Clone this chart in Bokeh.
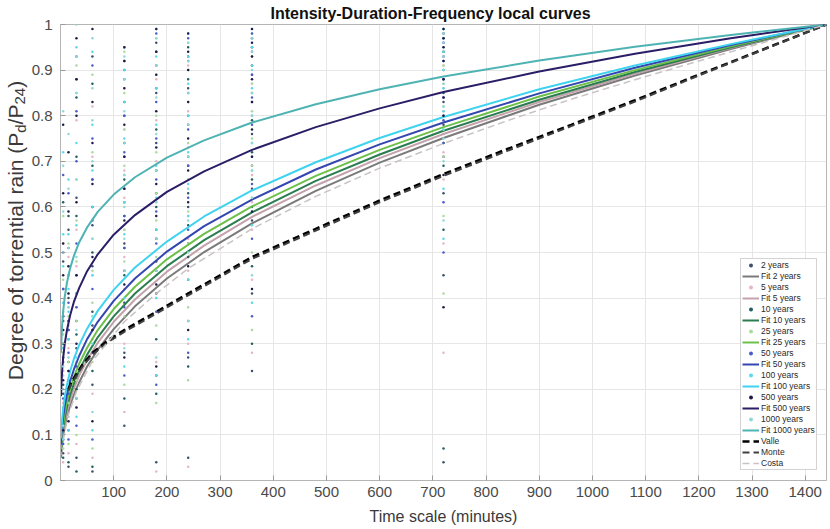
import math
from bokeh.plotting import figure
from bokeh.layouts import row
from bokeh.models import FixedTicker, CustomJSTickFormatter, Range1d
from bokeh.core.properties import value
from bokeh.embed import file_html
from bokeh.resources import INLINE

# ---------------- data ----------------
durations = [5, 15, 30, 60, 120, 180, 240, 360, 720]
periods = ["2 years", "5 years", "10 years", "25 years", "50 years", "100 years", "500 years", "1000 years"]

obs_2 = [[0.06, 0.12, 0.19, 0.27, 0.35, 0.48, 0.09], [0.03, 0.15, 0.22, 0.31, 0.40, 0.55, 0.26],
         [0.05, 0.18, 0.29, 0.41, 0.62, 0.88, 0.35], [0.02, 0.21, 0.34, 0.47, 0.66, 0.93, 0.56],
         [0.12, 0.28, 0.39, 0.52, 0.71, 0.90, 0.46, 0.61, 0.80], [0.04, 0.23, 0.41, 0.55, 0.74, 0.96, 0.63, 0.48, 0.85],
         [0.05, 0.27, 0.44, 0.60, 0.78, 0.93, 0.52, 0.69, 0.86], [0.24, 0.41, 0.57, 0.69, 0.83, 0.95, 0.64, 0.76, 0.89],
         [0.04, 0.45, 0.63, 0.78, 0.88, 0.97, 0.71, 0.83, 0.93]]
obs_5 = [[0.04, 0.10, 0.17, 0.24, 0.33, 0.52, 0.14], [0.06, 0.13, 0.20, 0.29, 0.38, 0.49, 0.34],
         [0.08, 0.16, 0.26, 0.38, 0.55, 0.79, 0.47], [0.05, 0.19, 0.31, 0.45, 0.60, 0.82, 0.71],
         [0.15, 0.30, 0.42, 0.55, 0.68, 0.86, 0.49, 0.62, 0.77], [0.02, 0.26, 0.40, 0.53, 0.70, 0.88, 0.61, 0.79, 0.45],
         [0.03, 0.30, 0.46, 0.58, 0.73, 0.91, 0.66, 0.81, 0.53], [0.28, 0.44, 0.55, 0.67, 0.80, 0.93, 0.61, 0.74, 0.87],
         [0.28, 0.52, 0.66, 0.76, 0.86, 0.96, 0.72, 0.81, 0.91]]
obs_10 = [[0.05, 0.14, 0.21, 0.30, 0.42, 0.61, 0.36], [0.04, 0.11, 0.24, 0.33, 0.45, 0.58, 0.18],
          [0.02, 0.20, 0.32, 0.45, 0.58, 0.84, 0.71], [0.03, 0.24, 0.37, 0.50, 0.69, 0.87, 0.60],
          [0.18, 0.33, 0.45, 0.58, 0.74, 0.92, 0.51, 0.66, 0.83], [0.19, 0.31, 0.46, 0.60, 0.77, 0.94, 0.68, 0.53, 0.86],
          [0.25, 0.35, 0.49, 0.63, 0.80, 0.95, 0.56, 0.71, 0.88], [0.30, 0.47, 0.60, 0.72, 0.85, 0.97, 0.66, 0.79, 0.91],
          [0.07, 0.55, 0.69, 0.80, 0.90, 0.98, 0.74, 0.85, 0.94]]
obs_25 = [[0.07, 0.16, 0.23, 0.32, 0.44, 0.58, 0.28], [0.08, 0.17, 0.26, 0.36, 0.47, 0.52, 0.41],
          [0.10, 0.22, 0.35, 0.48, 0.66, 0.91, 0.57], [0.07, 0.26, 0.39, 0.53, 0.72, 0.89, 0.46],
          [0.21, 0.36, 0.48, 0.61, 0.77, 0.94, 0.55, 0.69, 0.85], [0.17, 0.34, 0.49, 0.63, 0.80, 0.97, 0.57, 0.72, 0.89],
          [0.22, 0.38, 0.52, 0.66, 0.83, 0.96, 0.59, 0.74, 0.90], [0.33, 0.50, 0.62, 0.75, 0.87, 0.98, 0.69, 0.81, 0.93],
          [0.41, 0.58, 0.71, 0.82, 0.91, 0.99, 0.77, 0.87, 0.95]]
obs_50 = [[0.08, 0.18, 0.26, 0.36, 0.50, 0.67, 0.42], [0.09, 0.19, 0.28, 0.39, 0.51, 0.63, 0.33],
          [0.12, 0.25, 0.38, 0.52, 0.70, 0.93, 0.81], [0.09, 0.28, 0.42, 0.57, 0.75, 0.91, 0.66],
          [0.23, 0.38, 0.51, 0.64, 0.80, 0.95, 0.58, 0.72, 0.88], [0.21, 0.37, 0.52, 0.66, 0.83, 0.98, 0.59, 0.75, 0.91],
          [0.28, 0.41, 0.55, 0.69, 0.85, 0.97, 0.62, 0.77, 0.92], [0.36, 0.53, 0.65, 0.78, 0.89, 0.98, 0.71, 0.84, 0.94],
          [0.50, 0.61, 0.74, 0.84, 0.92, 0.99, 0.79, 0.88, 0.96]]
obs_100 = [[0.09, 0.20, 0.29, 0.39, 0.54, 0.72, 0.47], [0.11, 0.21, 0.31, 0.42, 0.54, 0.66, 0.37],
           [0.14, 0.27, 0.41, 0.56, 0.74, 0.95, 0.85], [0.11, 0.30, 0.45, 0.60, 0.78, 0.94, 0.68],
           [0.25, 0.40, 0.54, 0.67, 0.83, 0.95, 0.61, 0.75, 0.90], [0.23, 0.40, 0.55, 0.69, 0.86, 0.99, 0.62, 0.78, 0.93],
           [0.31, 0.44, 0.58, 0.72, 0.87, 0.98, 0.65, 0.80, 0.93], [0.39, 0.56, 0.68, 0.80, 0.91, 0.99, 0.74, 0.86, 0.95],
           [0.53, 0.64, 0.77, 0.86, 0.94, 0.99, 0.81, 0.90, 0.97]]
obs_500 = [[0.11, 0.22, 0.33, 0.45, 0.63, 0.78, 0.52], [0.13, 0.24, 0.35, 0.47, 0.59, 0.72, 0.41],
           [0.16, 0.30, 0.45, 0.61, 0.80, 0.97, 0.88], [0.13, 0.33, 0.49, 0.65, 0.83, 0.99, 0.74],
           [0.27, 0.43, 0.57, 0.71, 0.86, 0.95, 0.64, 0.78, 0.92], [0.25, 0.43, 0.58, 0.73, 0.89, 0.99, 0.65, 0.81, 0.94],
           [0.33, 0.47, 0.61, 0.75, 0.90, 0.98, 0.68, 0.83, 0.94], [0.42, 0.59, 0.71, 0.83, 0.93, 0.99, 0.77, 0.88, 0.96],
           [0.38, 0.67, 0.80, 0.88, 0.95, 0.99, 0.84, 0.92, 0.97]]
obs_1000 = [[0.12, 0.25, 0.37, 0.50, 0.69, 0.81, 0.59], [0.14, 0.27, 0.38, 0.51, 0.64, 0.76, 0.45],
            [0.18, 0.33, 0.49, 0.66, 0.85, 1.00, 0.93], [0.15, 0.36, 0.53, 0.70, 0.86, 0.97, 0.79],
            [0.29, 0.46, 0.60, 0.74, 0.88, 0.93, 0.67, 0.81, 0.53], [0.27, 0.46, 0.61, 0.76, 0.91, 0.97, 0.68, 0.84, 0.53],
            [0.35, 0.50, 0.64, 0.78, 0.92, 0.96, 0.71, 0.85, 0.57], [0.45, 0.62, 0.74, 0.85, 0.94, 0.97, 0.80, 0.90, 0.68],
            [0.57, 0.70, 0.82, 0.90, 0.96, 0.98, 0.87, 0.93, 0.75]]

fit_x = [1, 2, 3, 5, 8, 12, 18, 25, 35, 50, 70, 100, 140, 200, 270, 360, 480, 600, 720, 900, 1080, 1260, 1440]
fit_2 = [0.050, 0.066, 0.078, 0.096, 0.117, 0.139, 0.164, 0.188, 0.215, 0.250, 0.287, 0.332, 0.382, 0.443, 0.501, 0.564, 0.635, 0.697, 0.751, 0.824, 0.888, 0.946, 1.0]
fit_5 = [0.056, 0.074, 0.087, 0.106, 0.128, 0.150, 0.176, 0.201, 0.230, 0.264, 0.302, 0.348, 0.397, 0.458, 0.515, 0.578, 0.647, 0.707, 0.760, 0.830, 0.892, 0.949, 1.0]
fit_10 = [0.062, 0.081, 0.094, 0.114, 0.137, 0.160, 0.187, 0.212, 0.241, 0.276, 0.314, 0.360, 0.410, 0.470, 0.527, 0.588, 0.657, 0.715, 0.767, 0.835, 0.896, 0.950, 1.0]
fit_25 = [0.069, 0.089, 0.104, 0.125, 0.149, 0.173, 0.200, 0.226, 0.256, 0.291, 0.330, 0.376, 0.425, 0.485, 0.541, 0.601, 0.668, 0.725, 0.775, 0.842, 0.900, 0.952, 1.0]
fit_50 = [0.079, 0.101, 0.116, 0.139, 0.163, 0.188, 0.217, 0.243, 0.273, 0.310, 0.348, 0.394, 0.443, 0.502, 0.558, 0.616, 0.682, 0.737, 0.785, 0.849, 0.905, 0.955, 1.0]
fit_100 = [0.093, 0.116, 0.133, 0.157, 0.183, 0.209, 0.239, 0.266, 0.297, 0.333, 0.372, 0.418, 0.467, 0.524, 0.579, 0.636, 0.698, 0.751, 0.797, 0.858, 0.910, 0.957, 1.0]
fit_500 = [0.185, 0.217, 0.239, 0.269, 0.300, 0.329, 0.362, 0.391, 0.422, 0.459, 0.496, 0.539, 0.582, 0.633, 0.678, 0.725, 0.775, 0.816, 0.852, 0.897, 0.936, 0.970, 1.0]
fit_1000 = [0.280, 0.316, 0.340, 0.371, 0.403, 0.433, 0.465, 0.492, 0.522, 0.555, 0.589, 0.627, 0.665, 0.708, 0.746, 0.785, 0.825, 0.858, 0.886, 0.921, 0.951, 0.977, 1.0]

ref_x = [15, 20, 40, 60, 90, 120, 180, 240, 300, 360, 480, 600, 720, 840, 960, 1080, 1200, 1320, 1440]
valle = [0.200, 0.215, 0.252, 0.280, 0.308, 0.330, 0.370, 0.410, 0.450, 0.490, 0.552, 0.614, 0.672, 0.727, 0.780, 0.834, 0.890, 0.945, 1.0]
monte = [0.197, 0.211, 0.248, 0.276, 0.304, 0.326, 0.366, 0.406, 0.446, 0.486, 0.548, 0.610, 0.668, 0.723, 0.777, 0.831, 0.888, 0.944, 1.0]
costa_x = [5, 15, 30, 60, 120, 180, 240, 360, 480, 600, 720, 840, 960, 1080, 1200, 1320, 1440]
costa = [0.090, 0.145, 0.195, 0.262, 0.348, 0.410, 0.465, 0.552, 0.623, 0.685, 0.739, 0.789, 0.836, 0.879, 0.920, 0.960, 1.0]

x_ticks = [100, 200, 300, 400, 500, 600, 700, 800, 900, 1000, 1100, 1200, 1300, 1400]
y_ticks = [0, 0.1, 0.2, 0.3, 0.4, 0.5, 0.6, 0.7, 0.8, 0.9, 1.0]

# ---------------- styles ----------------
FONT = "Liberation Sans"
W, H = 830, 529
LAB_W = 28
FRAME_TOP, FRAME_BOTTOM = 24, 480
dot_colors = ["#3d4f6e", "#e8b4c8", "#1f5f5f", "#a8dc9a", "#4a5cc8", "#5ad8f0", "#1e1b4b", "#8fd8d8"]
fit_colors = ["#7a7a7a", "#c4a2ac", "#2a7d4f", "#6cc04a", "#3446b0", "#3fd3f0", "#2b1d66", "#4fb3b3"]

p = figure(width=W - LAB_W, height=H, x_range=Range1d(0, 1440), y_range=Range1d(0, 1),
           output_backend="svg", toolbar_location=None,
           min_border_left=58 - LAB_W, min_border_right=4, min_border_top=FRAME_TOP,
           min_border_bottom=H - FRAME_BOTTOM)

p.title.text = "Intensity-Duration-Frequency local curves"
p.title.align = "left"
p.title.offset = 210
p.title.text_font = FONT
p.title.text_font_size = "16px"
p.title.text_font_style = "bold"
p.title.text_color = "#111111"
p.title.standoff = 5

p.outline_line_color = "#b5b5b5"
p.background_fill_color = "white"
p.border_fill_color = "white"

for ax in (p.xaxis[0], p.yaxis[0]):
    ax.axis_line_color = "#b5b5b5"
    ax.major_tick_line_color = "#9a9a9a"
    ax.major_tick_in = 5
    ax.major_tick_out = 0
    ax.minor_tick_line_color = None
    ax.major_label_text_font = FONT
    ax.major_label_text_font_size = "15px"
    ax.major_label_text_color = "#4a4a4a"
    ax.axis_label_text_font = FONT
    ax.axis_label_text_font_style = "normal"
    ax.axis_label_text_color = "#3a3a3a"

p.xaxis.ticker = FixedTicker(ticks=x_ticks)
p.yaxis.ticker = FixedTicker(ticks=y_ticks)
p.yaxis.formatter = CustomJSTickFormatter(code="return (Math.round(tick*10)/10).toString();")
p.xaxis.axis_label = "Time scale (minutes)"
p.xaxis.axis_label_text_font_size = "16px"
p.xaxis.major_label_standoff = 6
p.xaxis.axis_label_standoff = 8
p.yaxis.major_label_standoff = 8

p.xgrid.ticker = FixedTicker(ticks=x_ticks)
p.ygrid.ticker = FixedTicker(ticks=y_ticks)
p.grid.grid_line_color = "#e6e6e6"
p.grid.grid_line_width = 1

# ---------------- series ----------------
all_obs = [obs_2, obs_5, obs_10, obs_25, obs_50, obs_100, obs_500, obs_1000]
all_fit = [fit_2, fit_5, fit_10, fit_25, fit_50, fit_100, fit_500, fit_1000]

for name, obs, fit, dc, fc in zip(periods, all_obs, all_fit, dot_colors, fit_colors):
    xs = [d for d, col in zip(durations, obs) for _ in col]
    ys = [v for col in obs for v in col]
    p.scatter(xs, ys, size=2.5, color=dc, line_color=None, legend_label=name)
    p.line(fit_x, fit, line_color=fc, line_width=2, legend_label="Fit " + name)

p.line(ref_x, valle, line_color="black", line_width=2.5, line_dash="7 4", legend_label="Valle")
p.line(ref_x, monte, line_color="#404040", line_width=2, line_dash="7 4", legend_label="Monte")
p.line(costa_x, costa, line_color="#c9c2c2", line_width=1.5, line_dash="7 4", legend_label="Costa")

lg = p.legend[0]
lg.location = (680, 10)
lg.label_text_font = FONT
lg.label_text_font_size = "8.5px"
lg.label_text_color = "#2a2a2a"
lg.glyph_width = 17
lg.glyph_height = 10
lg.label_height = 10
lg.label_standoff = 2
lg.spacing = 1
lg.padding = 1
lg.margin = 0
lg.border_line_color = "#a8a8a8"
lg.border_line_width = 1
lg.background_fill_color = "white"
lg.background_fill_alpha = 1.0

# ---------------- y-axis title with subscripts, in a narrow strip on the left ----------------
# The strip's frame is aligned with the main frame, so it shares the 0..1 vertical range.
lab = figure(width=LAB_W, height=H, x_range=Range1d(0, LAB_W), y_range=Range1d(0, 1),
             output_backend="svg", toolbar_location=None, title=None,
             x_axis_location=None, y_axis_location=None,
             min_border_left=0, min_border_right=0, min_border_top=FRAME_TOP,
             min_border_bottom=H - FRAME_BOTTOM)
lab.grid.visible = False
lab.outline_line_color = None
lab.background_fill_color = "white"
lab.border_fill_color = "white"

ARIAL = {'D': 722, 'e': 556, 'g': 556, 'r': 333, ' ': 278, 'o': 556, 'f': 278, 't': 278, 'n': 556,
         'i': 222, 'a': 556, 'l': 222, '(': 333, 'P': 667, 'd': 556, '/': 278, '2': 556, '4': 556, ')': 333}


def tw(s, size):
    return sum(ARIAL[c] for c in s) * size / 1000.0


# (text, font px, horizontal offset of the line's middle from the main line's middle)
parts = [("Degree of torrential rain (P", 21, 0), ("d", 15, 5), ("/P", 21, 0), ("24", 15, 5), (")", 21, 0)]
total = sum(tw(s, sz) for s, sz, _ in parts)
center_screen = 230.0
start_screen = center_screen + total / 2          # screen y where the text starts (bottom end)
anchor_y = (FRAME_BOTTOM - start_screen) / (FRAME_BOTTOM - FRAME_TOP)
middle_x = 14.5
shift = 0.0
for s, sz, dx in parts:
    lab.text(x=[middle_x], y=[anchor_y], text=[s], angle=math.pi / 2,
             x_offset=dx, y_offset=-shift,
             text_font=value(FONT), text_font_size=value(f"{sz}px"), text_color="#3a3a3a",
             text_align="left", text_baseline="middle")
    shift += tw(s, sz)

layout = row(lab, p, spacing=0)
open("out.html", "w").write(file_html(layout, INLINE))
